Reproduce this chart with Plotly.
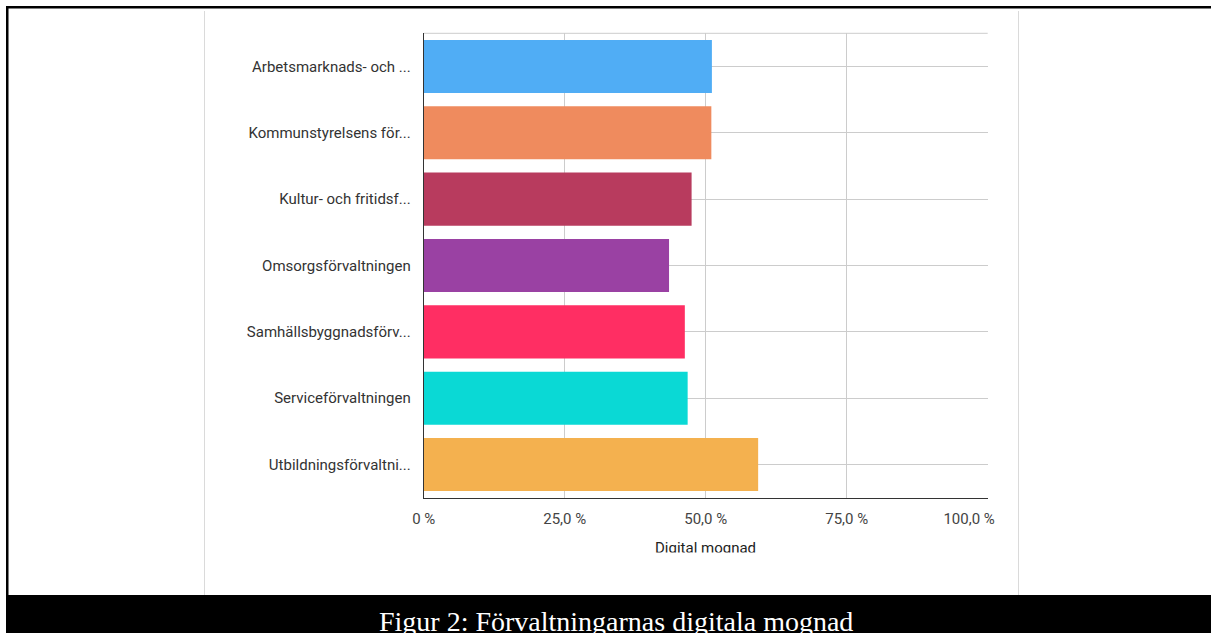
import plotly.graph_objects as go

# Digital maturity per administration (share, %)
categories = [
    "Arbetsmarknads- och ...",
    "Kommunstyrelsens för...",
    "Kultur- och fritidsf...",
    "Omsorgsförvaltningen",
    "Samhällsbyggnadsförv...",
    "Serviceförvaltningen",
    "Utbildningsförvaltni...",
]
values = [51.1, 51.0, 47.5, 43.5, 46.3, 46.8, 59.3]
bar_colors = ["#50adf5", "#ef8b5e", "#b83b5e", "#9a41a3", "#ff2e63", "#0ad9d5", "#f4b14f"]

tick_vals = [0, 25, 50, 75, 100]
tick_text = ["0 %", "25,0 %", "50,0 %", "75,0 %", "100,0 %"]

axis_title = "Digital mognad"
caption = "Figur 2: Förvaltningarnas digitala mognad"

W, H = 1211, 633


def px_x(p):
    return p / W


def px_y(p):
    return 1 - p / H


# the last tick label is kept inside the plot edge by padding it on the right
axis_tick_text = tick_text[:-1] + [tick_text[-1] + "\u00a0" * 10]

fig = go.Figure(
    go.Bar(
        x=values,
        y=categories,
        orientation="h",
        marker=dict(color=bar_colors, line=dict(width=0)),
        hoverinfo="x+y",
    )
)

plot_left, plot_right = 423.7, 987.7
plot_top, plot_bottom = 33.3, 497.7

fig.update_layout(
    width=W,
    height=H,
    margin=dict(l=0, r=0, t=0, b=0, autoexpand=False),
    paper_bgcolor="white",
    plot_bgcolor="white",
    bargap=0.2,
    showlegend=False,
    font=dict(family="Roboto", size=15, color="#333333"),
    xaxis=dict(
        domain=[px_x(plot_left), px_x(plot_right)],
        range=[0, 100],
        tickvals=tick_vals,
        ticktext=axis_tick_text,
        showgrid=True,
        gridcolor="#cccccc",
        gridwidth=1,
        showline=True,
        linecolor="#333333",
        linewidth=1,
        zeroline=False,
        ticks="",
        ticklabelstandoff=7,
        tickfont=dict(family="Roboto", size=15, color="#444444"),
        automargin=False,
        fixedrange=True,
    ),
    yaxis=dict(
        domain=[px_y(plot_bottom), px_y(plot_top)],
        autorange="reversed",
        showgrid=True,
        gridcolor="#cccccc",
        gridwidth=1,
        showline=True,
        linecolor="#333333",
        linewidth=1,
        ticks="",
        ticklabelstandoff=9,
        tickfont=dict(family="Roboto", size=15, color="#333333"),
        automargin=False,
        fixedrange=True,
    ),
)

shapes = [
    # top border of the plot area
    dict(type="line", xref="x domain", yref="y domain", x0=0, x1=1, y0=1, y1=1,
         line=dict(color="#cccccc", width=1), layer="below"),
    # light page edges around the chart
    dict(type="line", xref="paper", yref="paper", x0=px_x(204.5), x1=px_x(204.5),
         y0=px_y(11), y1=px_y(595), line=dict(color="#dadada", width=1)),
    dict(type="line", xref="paper", yref="paper", x0=px_x(1018.5), x1=px_x(1018.5),
         y0=px_y(11), y1=px_y(595), line=dict(color="#dadada", width=1)),
    # black frame
    dict(type="rect", xref="paper", yref="paper", x0=px_x(6), x1=1,
         y0=px_y(8.5), y1=px_y(6), fillcolor="black", line=dict(width=0)),
    dict(type="rect", xref="paper", yref="paper", x0=px_x(6), x1=px_x(8.5),
         y0=0, y1=px_y(6), fillcolor="black", line=dict(width=0)),
    # caption band
    dict(type="rect", xref="paper", yref="paper", x0=px_x(6), x1=1,
         y0=0, y1=px_y(595), fillcolor="black", line=dict(width=0)),
]
fig.update_layout(shapes=shapes)

annotations = [
    dict(text=axis_title, xref="paper", yref="paper",
         x=px_x((plot_left + plot_right) / 2), y=px_y(548),
         xanchor="center", yanchor="middle", showarrow=False,
         font=dict(family="Roboto", size=15, color="#222222")),
    # white strip trimming the bottom of the axis title
    dict(text=" ", xref="paper", yref="paper",
         x=px_x(705), y=px_y(573), xanchor="center", yanchor="middle",
         width=200, height=40, bgcolor="white", borderpad=0, showarrow=False),
    dict(text=caption, xref="paper", yref="paper",
         x=px_x(615.5), y=px_y(621), xanchor="center", yanchor="middle",
         showarrow=False,
         font=dict(family="Liberation Serif", size=28, color="white")),
]
fig.update_layout(annotations=annotations)

fig.write_html("out.html")
